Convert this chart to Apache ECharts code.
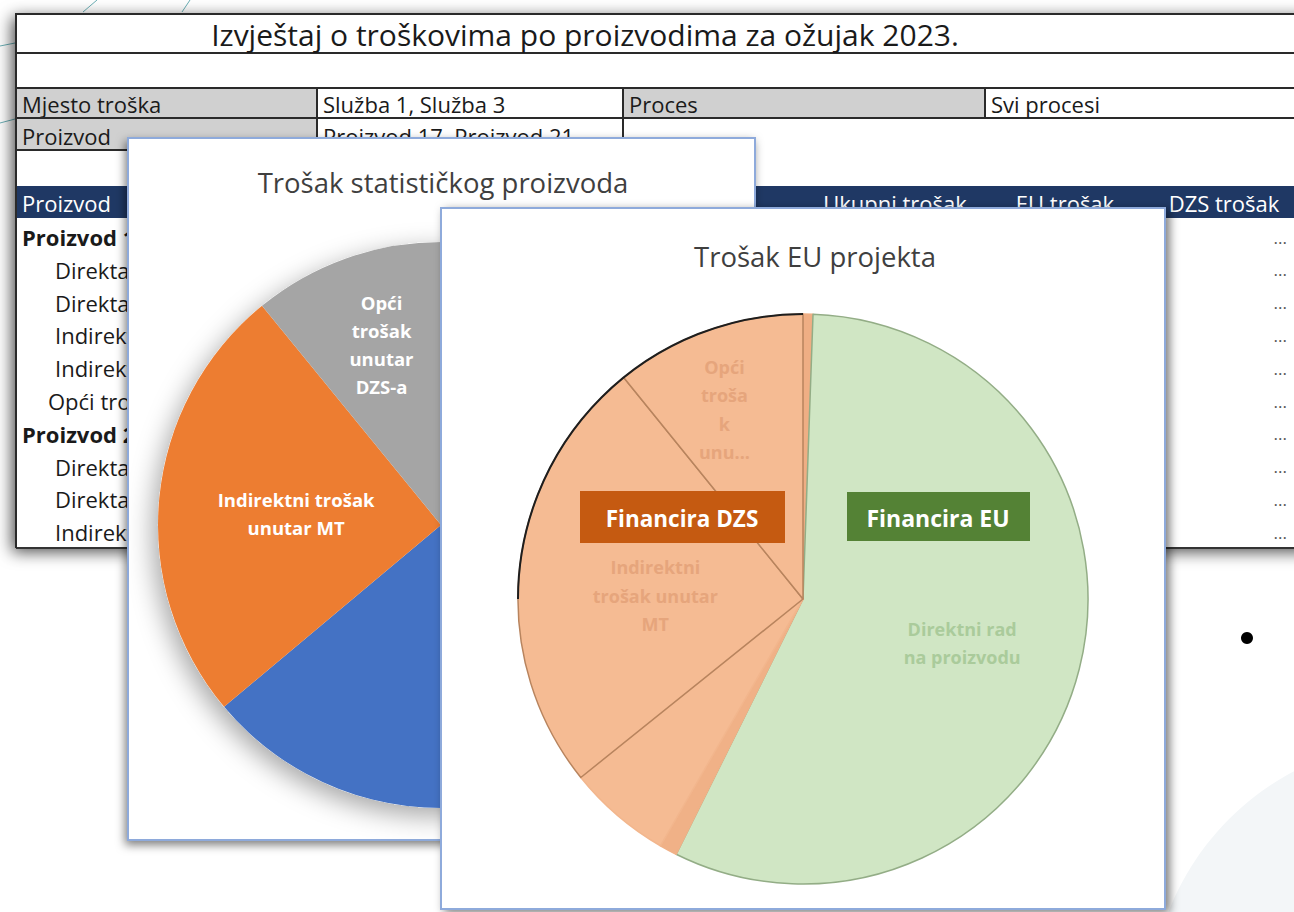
<!DOCTYPE html>
<html><head><meta charset="utf-8">
<script src="https://cdn.jsdelivr.net/npm/echarts@6/dist/echarts.min.js"></script>
<style>html,body{margin:0;padding:0;background:#fff;overflow:hidden}#c{width:1294px;height:912px}</style>
</head><body><div id="c"></div>
<script>
// ---------- data ----------
const reportTitle = 'Izvještaj o troškovima po proizvodima za ožujak 2023.';
const filterRow1 = ['Mjesto troška', 'Služba 1, Služba 3', 'Proces', 'Svi procesi'];
const filterRow2 = ['Proizvod', 'Proizvod 17, Proizvod 21'];
const tableHeaders = ['Proizvod', 'Ukupni trošak', 'EU trošak', 'DZS trošak'];
const tableRows = ['Proizvod 1', 'Direktan rad', 'Direktan trošak', 'Indirektni trošak unutar MT', 'Indirektni trošak izvan MT',
  'Opći trošak unutar DZS-a', 'Proizvod 2', 'Direktan rad', 'Direktan trošak', 'Indirektni trošak unutar MT'];
const rowLevel = [0, 2, 2, 2, 2, 1, 0, 2, 2, 2];
const rowValue = ['...', '...', '...', '...', '...', '...', '...', '...', '...', '...'];

const pie1Title = 'Trošak statističkog proizvoda';
const pie1Names = ['Direktni rad na proizvodu', 'Indirektni trošak unutar MT', 'Opći trošak unutar DZS-a'];
const pie1Values = [63.9, 25.2, 10.9];
const pie1Labels = ['', 'Indirektni trošak\nunutar MT', 'Opći\ntrošak\nunutar\nDZS-a'];

const pie2Title = 'Trošak EU projekta';
const pie2Names = ['DZS dio A', 'Direktni rad na proizvodu', 'DZS dio B', 'Direktni rad (DZS)', 'Indirektni trošak unutar MT', 'Opći trošak unutar DZS-a'];
const pie2Values = [0.56, 56.78, 1.0, 5.89, 24.94, 10.83];
const pie2Labels = ['', 'Direktni rad\nna proizvodu', '', '', 'Indirektni\ntrošak unutar\nMT', 'Opći\ntroša\nk\nunu...'];
const fundingLabels = ['Financira DZS', 'Financira EU'];

// ---------- layout / style ----------
const FONT = '"Open Sans", Lato, sans-serif';
const P1 = { cx: 441, cy: 525, r: 283 };
const P2 = { cx: 803, cy: 599, r: 285 };
const pie1Colors = ['#4472c4', '#ed7d31', '#a5a5a5'];
const pie2Colors = ['#efae84', '#d0e6c4', '#f0b187', '#f5bb93', '#f5bb93', '#f5bb93'];
const pie2Borders = ['#efae84', '#93ad86', '#f0b187', '#f2b68d', '#b8845e', '#b8845e'];
const pie2LabelColors = ['#e6a57c', '#aacb9b', '#e6a57c', '#e6a57c', '#e6a57c', '#e6a57c'];
const pie1LabelOffset = [[0, 0], [-4, 2], [-12, -47]];
const pie2LabelOffset = [[0, 0], [21, 9], [0, 0], [0, 0], [-6, 12], [-31, -55]];

const G = [];
function rect(x, y, w, h, style, z) { G.push({ type: 'rect', shape: { x, y, width: w, height: h }, style, z: z || 1, silent: true }); }
function txt(x, y, text, font, fill, align, z, lh, maxW) {
  const st = { text, font, fill, align: align || 'left', verticalAlign: 'middle' };
  if (lh) st.lineHeight = lh;
  if (maxW) { st.width = maxW; st.overflow = 'truncate'; st.ellipsis = ''; }
  G.push({ type: 'text', x, y, style: st, z: z || 1, silent: true });
}
function line(x1, y1, x2, y2, stroke, lw, z) { G.push({ type: 'line', shape: { x1, y1, x2, y2 }, style: { stroke, lineWidth: lw }, z: z || 1, silent: true }); }

// label anchors computed from the data (mid-angle of each slice, half radius)
function anchors(values, P) {
  const total = values.reduce((a, b) => a + b, 0);
  let acc = 0;
  return values.map(v => {
    const mid = (acc + v / 2) / total * 360; acc += v;
    const a = (90 - mid) * Math.PI / 180;
    return [P.cx + P.r * 0.5 * Math.cos(a), P.cy - P.r * 0.5 * Math.sin(a)];
  });
}

// background decorations
G.push({ type: 'circle', shape: { cx: 1420, cy: 1010, r: 270 }, style: { fill: '#f3f6f8' }, z: 0, silent: true });
line(83, 12, 97, 0, '#6aaeb4', 1, 0);
line(182, 12, 190, 0, '#6aaeb4', 1, 0);
line(0, 46, 15, 43, '#6aaeb4', 1, 0);
line(0, 123, 15, 119, '#6aaeb4', 1, 0);
G.push({ type: 'circle', shape: { cx: 1247, cy: 638, r: 6 }, style: { fill: '#000' }, z: 0, silent: true });

// table
rect(16, 13, 1300, 535, { fill: '#fff', shadowBlur: 16, shadowColor: 'rgba(0,0,0,0.7)', shadowOffsetX: -4, shadowOffsetY: 4 }, 1);
rect(16, 14, 1300, 39, { fill: '#fff', stroke: '#2a2a2a', lineWidth: 2 }, 1);
txt(585, 34, reportTitle, '30px ' + FONT, '#1a1a1a', 'center', 1);
const cellX = [16, 317, 623, 985, 1300];
const cellFill1 = ['#d0d0d0', '#fff', '#d0d0d0', '#fff'];
for (let i = 0; i < 4; i++) {
  rect(cellX[i], 88, cellX[i + 1] - cellX[i], 30, { fill: cellFill1[i], stroke: '#2a2a2a', lineWidth: 2 }, 1);
  txt(cellX[i] + 6, 104, filterRow1[i], '22px ' + FONT, '#1a1a1a', 'left', 1);
}
for (let i = 0; i < 2; i++) {
  rect(cellX[i], 118, cellX[i + 1] - cellX[i], 32, { fill: cellFill1[i], stroke: '#2a2a2a', lineWidth: 2 }, 1);
  txt(cellX[i] + 6, 136, filterRow2[i], '22px ' + FONT, '#1a1a1a', 'left', 1);
}
rect(16, 186, 1300, 32, { fill: '#1f3864' }, 1);
const headX = [22, 895, 1065, 1224];
const headAlign = ['left', 'center', 'center', 'center'];
for (let i = 0; i < 4; i++) txt(headX[i], 203, tableHeaders[i], '22px ' + FONT, '#fff', headAlign[i], 1);
const indentX = [22, 48, 55];
for (let i = 0; i < tableRows.length; i++) {
  const y = 237 + i * 32.8;
  const x = indentX[rowLevel[i]];
  txt(x, y, tableRows[i], (rowLevel[i] === 0 ? 'bold ' : '') + '22px ' + FONT, '#1a1a1a', 'left', 1, null, 128 - x + 12);
  txt(1287, y, rowValue[i], '17px ' + FONT, '#555', 'right', 1);
}
line(16, 548, 1300, 548, '#333', 2, 1);
line(16, 13, 16, 548, '#2a2a2a', 2, 1);

// panel 1
rect(128, 138, 627, 702, { fill: '#fff', stroke: '#8eaadb', lineWidth: 2, shadowBlur: 10, shadowColor: 'rgba(0,0,0,0.5)', shadowOffsetX: -2, shadowOffsetY: 4 }, 2);
txt(443, 182, pie1Title, '27.5px ' + FONT, '#3f3f3f', 'center', 5);
anchors(pie1Values, P1).forEach((p, i) => {
  if (pie1Labels[i]) txt(p[0] + pie1LabelOffset[i][0], p[1] + pie1LabelOffset[i][1], pie1Labels[i], 'bold 18.5px ' + FONT, '#fff', 'center', 5, 28);
});

// panel 2
rect(441, 208, 724, 701, { fill: '#fff', stroke: '#8eaadb', lineWidth: 2, shadowBlur: 10, shadowColor: 'rgba(0,0,0,0.5)', shadowOffsetX: 4, shadowOffsetY: 3 }, 6);
txt(815, 256, pie2Title, '27.5px ' + FONT, '#3f3f3f', 'center', 8);
G.push({ type: 'arc', shape: { cx: P2.cx, cy: P2.cy, r: P2.r, startAngle: 180 * Math.PI / 180, endAngle: 270 * Math.PI / 180, clockwise: true },
  style: { stroke: '#1e1e1e', lineWidth: 2, fill: null }, z: 8, silent: true });
anchors(pie2Values, P2).forEach((p, i) => {
  if (pie2Labels[i]) txt(p[0] + pie2LabelOffset[i][0], p[1] + pie2LabelOffset[i][1], pie2Labels[i], 'bold 18px ' + FONT, pie2LabelColors[i], 'center', 8, 28.5);
});

// funding annotation boxes
rect(580, 491, 205, 52, { fill: '#c55a11' }, 9);
txt(682, 518, fundingLabels[0], 'bold 22.5px ' + FONT, '#fff', 'center', 9);
rect(847, 492, 183, 49, { fill: '#548235' }, 9);
txt(938, 518, fundingLabels[1], 'bold 23px ' + FONT, '#fff', 'center', 9);

const sum1 = pie1Values.reduce((a, b) => a + b, 0);

const chart = echarts.init(document.getElementById('c'), null, { renderer: 'svg', width: 1294, height: 912 });
chart.setOption({
  animation: false,
  backgroundColor: '#fff',
  graphic: { elements: G },
  series: [
    { // soft shadow disc behind pie 1
      type: 'pie', silent: true, z: 3, center: [P1.cx, P1.cy], radius: P1.r,
      label: { show: false }, labelLine: { show: false },
      itemStyle: { color: '#fff', shadowBlur: 26, shadowColor: 'rgba(0,0,0,0.35)', shadowOffsetX: -5, shadowOffsetY: 8 },
      data: [{ name: 'total', value: sum1 }]
    },
    {
      type: 'pie', silent: true, z: 4, center: [P1.cx, P1.cy], radius: P1.r, startAngle: 90, clockwise: true,
      label: { show: false }, labelLine: { show: false },
      data: pie1Values.map((v, i) => ({ name: pie1Names[i], value: v, itemStyle: { color: pie1Colors[i], borderWidth: 0 } }))
    },
    {
      type: 'pie', silent: true, z: 7, center: [P2.cx, P2.cy], radius: P2.r, startAngle: 90, clockwise: true,
      label: { show: false }, labelLine: { show: false },
      data: pie2Values.map((v, i) => ({
        name: pie2Names[i], value: v,
        itemStyle: { color: pie2Colors[i], borderColor: pie2Borders[i], borderWidth: 1.5 }
      }))
    }
  ]
});
</script>
</body></html>
